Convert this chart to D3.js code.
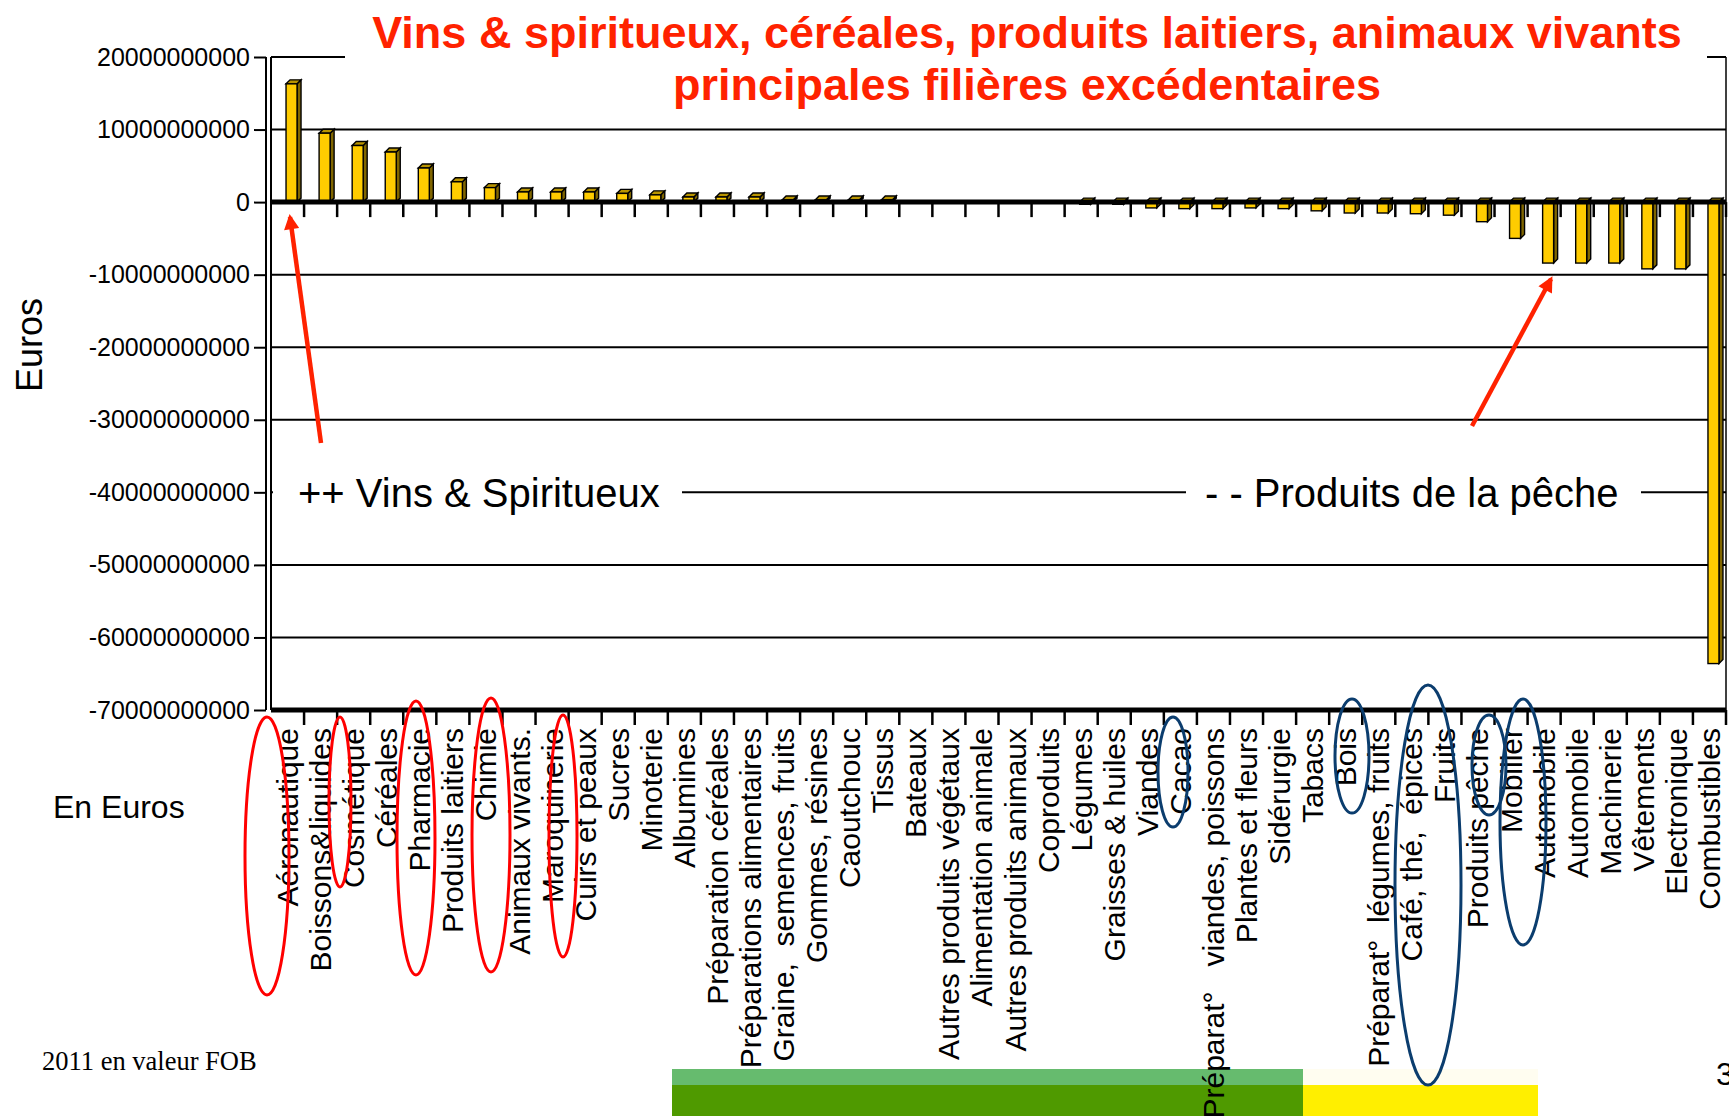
<!DOCTYPE html>
<html>
<head>
<meta charset="utf-8">
<script src="https://cdn.jsdelivr.net/npm/d3@7"></script>
<style>
  body { margin: 0; background: #fff; }
  svg { display: block; }
  text { font-family: "Liberation Sans", Arial, sans-serif; }
</style>
</head>
<body>
<script>
// categories, in the order of the chart (balance, euros)
var categories = ["Aéronautique", "Boissons&liquides", "Cosmétique", "Céréales", "Pharmacie",
  "Produits laitiers", "Chimie", "Animaux vivants.", "Maroquinerie", "Cuirs et peaux",
  "Sucres", "Minoterie", "Albumines", "Préparation céréales", "Préparations alimentaires",
  "Graine,  semences, fruits", "Gommes, résines", "Caoutchouc", "Tissus", "Bateaux",
  "Autres produits végétaux", "Alimentation animale", "Autres produits animaux", "Coproduits",
  "Légumes", "Graisses & huiles", "Viandes", "Cacao", "Préparat°   viandes, poissons",
  "Plantes et fleurs", "Sidérurgie", "Tabacs", "Bois", "Préparat°  légumes, fruits",
  "Café, thé,  épices", "Fruits", "Produits pêche", "Mobilier", "Automobile", "Automobile",
  "Machinerie", "Vêtements", "Electronique", "Combustibles"];

var values = [16.3e9, 9.5e9, 7.8e9, 6.9e9, 4.7e9,
  2.8e9, 2.0e9, 1.4e9, 1.4e9, 1.4e9,
  1.2e9, 1.0e9, 0.7e9, 0.7e9, 0.7e9,
  0.3e9, 0.3e9, 0.3e9, 0.3e9, 0.05e9,
  0.02e9, 0.01e9, 0, -0.02e9,
  -0.3e9, -0.3e9, -0.8e9, -0.9e9, -0.9e9,
  -0.8e9, -0.9e9, -1.2e9, -1.5e9, -1.5e9,
  -1.6e9, -1.8e9, -2.7e9, -5.0e9, -8.4e9, -8.4e9,
  -8.4e9, -9.2e9, -9.2e9, -63.6e9];

var yTicks = [20e9, 10e9, 0, -10e9, -20e9, -30e9, -40e9, -50e9, -60e9, -70e9];

var titleLines = ["Vins & spiritueux, céréales, produits laitiers, animaux vivants",
  "principales filières excédentaires"];

var W = 1729, H = 1116;
var plotL = 271, plotR = 1726, plotT = 57, plotB = 710;

var svg = d3.select("body").append("svg")
  .attr("width", W).attr("height", H);

var x = d3.scaleBand()
  .domain(d3.range(categories.length))
  .range([plotL, plotR]);

var y = d3.scaleLinear()
  .domain([-70e9, 20e9])
  .range([plotB, plotT]);

// bottom coloured boxes
svg.append("rect").attr("x", 672).attr("y", 1069).attr("width", 631).attr("height", 47).attr("fill", "#4f9a00");
svg.append("rect").attr("x", 672).attr("y", 1069).attr("width", 631).attr("height", 16).attr("fill", "#66bb6e");
svg.append("rect").attr("x", 1303).attr("y", 1069).attr("width", 235).attr("height", 47).attr("fill", "#ffef00");
svg.append("rect").attr("x", 1303).attr("y", 1069).attr("width", 235).attr("height", 16).attr("fill", "#fffdf0");

// gridlines
svg.append("g").selectAll("line")
  .data(yTicks.filter(function(d) { return d != 0 && d != -70e9; }))
  .join("line")
  .attr("x1", plotL).attr("x2", plotR)
  .attr("y1", function(d) { return y(d); })
  .attr("y2", function(d) { return y(d); })
  .attr("stroke", "#000").attr("stroke-width", 2);

// right border
svg.append("line").attr("x1", plotR).attr("x2", plotR).attr("y1", plotT).attr("y2", plotB)
  .attr("stroke", "#000").attr("stroke-width", 1.5);

// 3d bars
var bw = 11, depth = 4;
var bars = svg.append("g");
values.forEach(function(v, i) {
  var cx = x(i) + x.bandwidth() / 2;
  var x0 = cx - 1.5, x1 = x0 + bw;
  var yt = Math.min(y(v), y(0)), yb = Math.max(y(v), y(0));
  if (yb - yt < 0.5) return;
  bars.append("path")
    .attr("d", "M" + x1 + "," + yt + "L" + (x1 + depth) + "," + (yt - depth) +
      "L" + (x1 + depth) + "," + (yb - depth) + "L" + x1 + "," + yb + "Z")
    .attr("fill", "#806600").attr("stroke", "#000").attr("stroke-width", 1.4);
  bars.append("path")
    .attr("d", "M" + x0 + "," + yt + "L" + (x0 + depth) + "," + (yt - depth) +
      "L" + (x1 + depth) + "," + (yt - depth) + "L" + x1 + "," + yt + "Z")
    .attr("fill", "#b89400").attr("stroke", "#000").attr("stroke-width", 1.4);
  bars.append("rect")
    .attr("x", x0).attr("y", yt).attr("width", bw).attr("height", yb - yt)
    .attr("fill", "#ffcc00").attr("stroke", "#000").attr("stroke-width", 1.4);
});

// zero line and bottom axis, with ticks on the band edges
[0, -70e9].forEach(function(v) {
  svg.append("line").attr("x1", plotL).attr("x2", plotR)
    .attr("y1", y(v)).attr("y2", y(v))
    .attr("stroke", "#000").attr("stroke-width", 5);
  svg.append("g").selectAll("line")
    .data(d3.range(1, categories.length + 1))
    .join("line")
    .attr("x1", function(k) { return plotL + k * x.step(); })
    .attr("x2", function(k) { return plotL + k * x.step(); })
    .attr("y1", y(v)).attr("y2", y(v) + 15)
    .attr("stroke", "#000").attr("stroke-width", 2.5);
});

// top border
svg.append("line").attr("x1", plotL).attr("x2", plotR).attr("y1", plotT).attr("y2", plotT)
  .attr("stroke", "#000").attr("stroke-width", 2);

// y axis (double line), plain hyphen for the minus sign
var yAxis = d3.axisLeft(y).tickValues(yTicks).tickSize(12).tickPadding(4)
  .tickFormat(function(d) { return String(d); });
var ga = svg.append("g").attr("transform", "translate(" + (plotL - 5) + ",0)").call(yAxis);
ga.select(".domain").attr("stroke-width", 2).attr("d", "M0," + plotT + "V" + plotB);
ga.selectAll(".tick line").attr("stroke-width", 2);
ga.selectAll(".tick text").attr("font-size", 25).attr("fill", "#000")
  .attr("font-family", "'Liberation Sans', Arial, sans-serif");
svg.append("line").attr("x1", plotL).attr("x2", plotL).attr("y1", plotT).attr("y2", plotB)
  .attr("stroke", "#000").attr("stroke-width", 2);

// category labels
svg.append("g").selectAll("text")
  .data(categories)
  .join("text")
  .attr("transform", function(d, i) {
    return "translate(" + (x(i) + x.bandwidth() / 2) + "," + 728 + ") rotate(-90)";
  })
  .attr("dy", "0.35em")
  .attr("text-anchor", "end")
  .attr("font-size", 30)
  .style("white-space", "pre")
  .text(function(d) { return d; });

// ellipses on labels
var ellipses = svg.append("g").attr("fill", "none").attr("stroke-width", 3);
var redE = [[267, 856, 22, 139], [340, 802, 11, 85], [416, 838, 19, 137], [491, 835, 19, 137], [563, 836, 14, 121]];
var blueE = [[1173, 772, 15, 55], [1352, 756, 17, 57], [1428, 885, 33, 200], [1489, 765, 17, 50], [1523, 822, 23, 123]];
redE.forEach(function(e) {
  ellipses.append("ellipse").attr("cx", e[0]).attr("cy", e[1]).attr("rx", e[2]).attr("ry", e[3]).attr("stroke", "#ff0000");
});
blueE.forEach(function(e) {
  ellipses.append("ellipse").attr("cx", e[0]).attr("cy", e[1]).attr("rx", e[2]).attr("ry", e[3]).attr("stroke", "#0b3d6e");
});

// annotation texts over the -40 billion gridline
svg.append("rect").attr("x", plotL + 2).attr("y", 470).attr("width", 680 - plotL).attr("height", 46).attr("fill", "#fff");
svg.append("rect").attr("x", 1186).attr("y", 470).attr("width", 455).attr("height", 46).attr("fill", "#fff");
svg.append("text").attr("x", 298).attr("y", 507).attr("font-size", 40).text("++ Vins & Spiritueux");
svg.append("text").attr("x", 1205).attr("y", 507).attr("font-size", 40).text("- - Produits de la pêche");

// red arrows
var defs = svg.append("defs");
defs.append("marker").attr("id", "head").attr("viewBox", "0 0 10 10")
  .attr("refX", 8).attr("refY", 5).attr("markerWidth", 4.2).attr("markerHeight", 3.4)
  .attr("markerUnits", "strokeWidth").attr("orient", "auto")
  .append("path").attr("d", "M0,0L10,5L0,10Z").attr("fill", "#ff2200");
[[321, 443, 290, 217], [1472, 426, 1551, 279]].forEach(function(a) {
  svg.append("line").attr("x1", a[0]).attr("y1", a[1]).attr("x2", a[2]).attr("y2", a[3])
    .attr("stroke", "#ff2200").attr("stroke-width", 4.5).attr("marker-end", "url(#head)");
});

// title with a white box that hides the top border
svg.append("rect").attr("x", 345).attr("y", 0).attr("width", 1362).attr("height", 110).attr("fill", "#fff");
svg.append("g").selectAll("text")
  .data(titleLines)
  .join("text")
  .attr("x", 1027)
  .attr("y", function(d, i) { return 48 + i * 52; })
  .attr("text-anchor", "middle")
  .attr("font-size", 45).attr("font-weight", "bold").attr("fill", "#ff2200")
  .text(function(d) { return d; });

// other texts
svg.append("text").attr("transform", "translate(42,345) rotate(-90)")
  .attr("text-anchor", "middle").attr("font-size", 36).text("Euros");
svg.append("text").attr("x", 53).attr("y", 818).attr("font-size", 32).text("En Euros");
svg.append("text").attr("x", 42).attr("y", 1070).attr("font-size", 26.5)
  .style("font-family", "'Liberation Serif', 'Times New Roman', serif").text("2011 en valeur FOB");
svg.append("text").attr("x", 1716).attr("y", 1085).attr("font-size", 32).text("3");
</script>
</body>
</html>
